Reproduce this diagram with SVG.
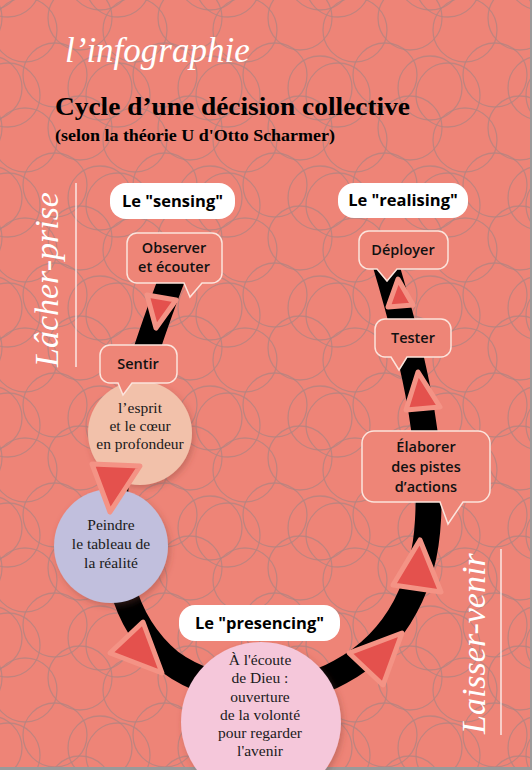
<svg xmlns="http://www.w3.org/2000/svg" xmlns:xlink="http://www.w3.org/1999/xlink" width="532" height="770" viewBox="0 0 532 770">
<defs>
<style>
.bub{fill:#EE8577;stroke:#FCE4DC;stroke-width:1.5}
.btxt{font-family:"Open Sans","Noto Sans",sans-serif;font-weight:600;font-size:14.5px;fill:#111;text-anchor:middle}
.lbl{fill:#fff}
.ltxt{font-family:"Open Sans","Noto Sans",sans-serif;font-weight:700;font-size:16.5px;fill:#000;text-anchor:middle}
.ctxt{font-family:"Liberation Serif","Times New Roman",serif;font-size:15.5px;fill:#1a1a1a;text-anchor:middle}
.tri{fill:#E4514D;stroke:#F49385;stroke-width:5;stroke-linejoin:round}
.side{font-family:"Liberation Serif","Times New Roman",serif;font-style:italic;font-size:34px;fill:#fff}
.ring{fill:none;stroke:#B4837F;stroke-width:1.3;opacity:0.8}
</style>
<g id="cg">
<circle class="ring" cx="25" cy="30" r="32"/>
<circle class="ring" cx="80" cy="18" r="32"/>
<circle class="ring" cx="55" cy="75" r="32"/>
<circle class="ring" cx="100" cy="88" r="32"/>
<circle class="ring" cx="8" cy="95" r="32"/>
</g>
<pattern id="bgp" width="110" height="110" patternUnits="userSpaceOnUse">
<use xlink:href="#cg" x="0" y="0"/>
<use xlink:href="#cg" x="-110" y="0"/>
<use xlink:href="#cg" x="110" y="0"/>
<use xlink:href="#cg" x="0" y="-110"/>
<use xlink:href="#cg" x="0" y="110"/>
<use xlink:href="#cg" x="-110" y="-110"/>
<use xlink:href="#cg" x="110" y="110"/>
<use xlink:href="#cg" x="-110" y="110"/>
<use xlink:href="#cg" x="110" y="-110"/>
</pattern>
<filter id="sh" x="-20%" y="-20%" width="140%" height="140%">
<feDropShadow dx="2" dy="3" stdDeviation="3" flood-color="#7a3a30" flood-opacity="0.35"/>
</filter>
</defs>

<rect x="0" y="0" width="532" height="770" fill="#EE8477"/>
<rect x="0" y="0" width="532" height="770" fill="url(#bgp)"/>
<rect x="530" y="0" width="2" height="770" fill="#9a9a9a"/>
<rect x="0" y="767" width="532" height="3" fill="#9a9a9a"/>

<g id="titles">
<text x="65" y="62" font-family="Liberation Serif, serif" font-style="italic" font-size="35" fill="#fff">l’infographie</text>
<text x="55" y="115" font-family="Liberation Serif, serif" font-weight="bold" font-size="25" fill="#000" textLength="355" lengthAdjust="spacingAndGlyphs">Cycle d’une décision collective</text>
<text x="55" y="141" font-family="Liberation Serif, serif" font-weight="bold" font-size="17" fill="#000" textLength="280" lengthAdjust="spacingAndGlyphs">(selon la théorie U d'Otto Scharmer)</text>
</g>

<g id="side-labels">
<text class="side" transform="translate(58,367) rotate(-90)">Lâcher-prise</text>
<line x1="76" y1="183" x2="76" y2="367" stroke="#fff" stroke-width="1.2"/>
<text class="side" transform="translate(485,734) rotate(-90)">Laisser-venir</text>
<line x1="501" y1="549" x2="501" y2="735" stroke="#fff" stroke-width="1.2"/>
</g>

<g id="connectors">
<path d="M 176 268 C 160 310, 125 400, 116 480 C 110 560, 120 620, 170 662 C 215 695, 290 700, 340 672 C 400 640, 425 580, 428 520 C 432 450, 420 380, 385 262" fill="none" stroke="#000" stroke-width="26"/>
</g>

<g id="node-esprit" filter="url(#sh)">
<circle cx="140" cy="433" r="52" fill="#F2C1AA"/>
</g>
<g id="node-peindre" filter="url(#sh)">
<circle cx="111" cy="546" r="57" fill="#C1BFDD"/>
</g>
<g id="node-presencing" filter="url(#sh)">
<circle cx="261" cy="722" r="80" fill="#F5C7DA"/>
</g>

<g id="arrows">
<polygon class="tri" points="147,295 176,300 156,328"/>
<polygon class="tri" points="92,464 140,466 110,512"/>
<polygon class="tri" points="143,622 110,653 162,673"/>
<polygon class="tri" points="349,653 402,633 383,685"/>
<polygon class="tri" points="420,540 441,592 393,585"/>
<polygon class="tri" points="418,372 440,407 406,410"/>
<polygon class="tri" points="398,279 413,305 388,307"/>
</g>

<g id="node-observer">
<path class="bub" d="M137,233 H212 A10 10 0 0 1 222,243 V273 A10 10 0 0 1 212,283 H202 L190,297 L184,283 H137 A10 10 0 0 1 127,273 V243 A10 10 0 0 1 137,233 Z"/>
<text class="btxt" x="174" y="253">Observer</text>
<text class="btxt" x="174" y="272">et écouter</text>
</g>
<g id="node-sentir">
<path class="bub" d="M110,345 H167 A10 10 0 0 1 177,355 V373 A10 10 0 0 1 167,383 H132 L123,395 L118,383 H110 A10 10 0 0 1 100,373 V355 A10 10 0 0 1 110,345 Z"/>
<text class="btxt" x="138" y="369">Sentir</text>
</g>
<g id="node-deployer">
<path class="bub" d="M369,231 H438 A10 10 0 0 1 448,241 V259 A10 10 0 0 1 438,269 H397 L387,281 L377,269 H369 A10 10 0 0 1 359,259 V241 A10 10 0 0 1 369,231 Z"/>
<text class="btxt" x="403" y="255">Déployer</text>
</g>
<g id="node-tester">
<path class="bub" d="M385,319 H441 A10 10 0 0 1 451,329 V347 A10 10 0 0 1 441,357 H407 L399,370 L391,357 H385 A10 10 0 0 1 375,347 V329 A10 10 0 0 1 385,319 Z"/>
<text class="btxt" x="413" y="343">Tester</text>
</g>
<g id="node-elaborer">
<path class="bub" d="M374,431 H478 A12 12 0 0 1 490,443 V490 A12 12 0 0 1 478,502 H463 L448,524 L440,502 H374 A12 12 0 0 1 362,490 V443 A12 12 0 0 1 374,431 Z"/>
<text class="btxt" x="426" y="452">Élaborer</text>
<text class="btxt" x="426" y="472">des pistes</text>
<text class="btxt" x="426" y="492">d’actions</text>
</g>

<g id="node-esprit-text">
<text class="ctxt" x="140" y="413">l’esprit</text>
<text class="ctxt" x="140" y="431">et le cœur</text>
<text class="ctxt" x="140" y="449">en profondeur</text>
</g>
<g id="node-peindre-text">
<text class="ctxt" x="111" y="530">Peindre</text>
<text class="ctxt" x="111" y="549">le tableau de</text>
<text class="ctxt" x="111" y="568">la réalité</text>
</g>
<g id="node-presencing-text">
<text class="ctxt" x="260" y="665">À l'écoute</text>
<text class="ctxt" x="260" y="683">de Dieu :</text>
<text class="ctxt" x="260" y="702">ouverture</text>
<text class="ctxt" x="260" y="720">de la volonté</text>
<text class="ctxt" x="260" y="738">pour regarder</text>
<text class="ctxt" x="260" y="756">l'avenir</text>
</g>

<g id="label-sensing">
<rect class="lbl" x="110" y="183" width="125" height="36" rx="16"/>
<text class="ltxt" x="172.5" y="207">Le "sensing"</text>
</g>
<g id="label-realising">
<rect class="lbl" x="338" y="183" width="130" height="35" rx="16"/>
<text class="ltxt" x="403" y="206">Le "realising"</text>
</g>
<g id="label-presencing">
<rect class="lbl" x="179" y="605" width="161" height="36" rx="16"/>
<text class="ltxt" x="259.5" y="629">Le "presencing"</text>
</g>
</svg>
